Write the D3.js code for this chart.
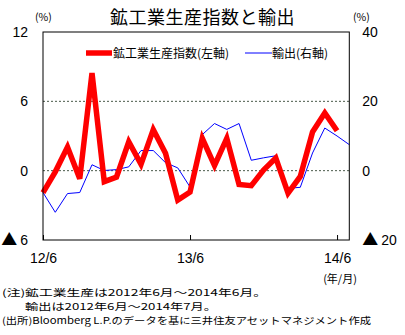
<!DOCTYPE html>
<html><head><meta charset="utf-8">
<script src="https://cdn.jsdelivr.net/npm/d3@7"></script>
<style>
body{margin:0;background:#fff;}
svg{display:block;}
text{font-family:"Noto Sans CJK JP","Noto Sans",sans-serif;fill:#000;}
</style></head>
<body><svg id="c" width="405" height="335"></svg>
<script>
const monthLabels = ["12/6","13/6","14/6"];
const monthTickIdx = [0,12,24];
const ipValues = [-1.9,-0.1,2.05,-0.7,8.45,-0.95,-0.55,2.5,0.55,3.55,1.5,-2.55,-1.85,2.8,0.45,2.8,-1.2,-1.3,0.05,1.1,-1.95,-0.5,3.35,5.0,3.45];
const exportValues = [-6.3,-12.0,-6.6,-6.3,1.7,0.05,0.3,1.1,5.8,5.8,2.3,0.8,-4.7,10.4,13.6,11.9,13.6,3.0,3.7,4.3,-5.1,-4.8,5.1,12.3,10.0,7.5];
const leftTicks = [-6,0,6,12];
const rightTicks = [-20,0,20,40];
const gridTicks = [0,6];

const svg = d3.select("#c");
const L=43, R=349.3, T=32, B=240;
const x = d3.scaleLinear().domain([0,25]).range([L,R]);
const yL = d3.scaleLinear().domain([-6,12]).range([B,T]);
const yR = d3.scaleLinear().domain([-20,40]).range([B,T]);

const numFont = "'Liberation Sans','Noto Sans CJK JP',sans-serif";

function styleTicks(sel){
  sel.selectAll("text").style("font-size","14px").style("font-family",numFont)
    .each(function(d){
      const t = d3.select(this);
      if (d < 0) {
        t.text(null);
        t.append("tspan").style("font-size","16px").style("font-family","'Noto Sans CJK JP',sans-serif").text("▲");
        t.append("tspan").attr("dx",3).text(Math.abs(d));
      }
    });
}

// title
svg.append("text").attr("x",110).attr("y",24)
  .style("font-size","18px").style("letter-spacing","0.5px").text("鉱工業生産指数と輸出");
svg.append("text").attr("x",35).attr("y",21).style("font-size","10.5px").text("(%)");
svg.append("text").attr("x",353).attr("y",21).style("font-size","10.5px").text("(%)");

// gridlines
svg.append("g").selectAll("line").data(gridTicks).join("line")
  .attr("x1",L).attr("x2",R).attr("y1",d=>yL(d)).attr("y2",d=>yL(d))
  .attr("stroke","#4a5a4a").attr("stroke-width",1).attr("stroke-dasharray","2,2");

// left axis
const ga = svg.append("g").attr("transform",`translate(${L},0)`)
  .call(d3.axisLeft(yL).tickValues(leftTicks).tickSize(0).tickPadding(15));
ga.select(".domain").remove();
styleTicks(ga);

const gr = svg.append("g").attr("transform",`translate(${R},0)`)
  .call(d3.axisRight(yR).tickValues(rightTicks).tickSize(0).tickPadding(13));
gr.select(".domain").remove();
styleTicks(gr);

const gb = svg.append("g").attr("transform",`translate(0,${B})`)
  .call(d3.axisBottom(x).tickValues(monthTickIdx).tickSize(-5).tickPadding(13)
    .tickFormat((d,i)=>monthLabels[i]));
gb.select(".domain").remove();
gb.selectAll("line").attr("stroke","#000");
gb.selectAll("text").style("font-size","14px").style("font-family",numFont);
svg.append("text").attr("x",340).attr("y",283).attr("text-anchor","middle").style("font-size","11px").text("(年/月)");

// lines
svg.append("path").datum(exportValues)
  .attr("d", d3.line().x((d,i)=>x(i)).y(d=>yR(d)))
  .attr("fill","none").attr("stroke","#0000ff").attr("stroke-width",1);
svg.append("path").datum(ipValues)
  .attr("d", d3.line().x((d,i)=>x(i)).y(d=>yL(d)))
  .attr("fill","none").attr("stroke","#ff0000").attr("stroke-width",5.5).attr("stroke-linejoin","miter");

// frame
svg.append("rect").attr("x",L).attr("y",T).attr("width",R-L).attr("height",B-T)
  .attr("fill","none").attr("stroke","#000").attr("stroke-width",1);

// legend
const lg = svg.append("g");
lg.append("line").attr("x1",86).attr("x2",112).attr("y1",53).attr("y2",53).attr("stroke","#ff0000").attr("stroke-width",5.5);
lg.append("text").attr("x",113).attr("y",57.5).style("font-size","12px").text("鉱工業生産指数(左軸)");
lg.append("line").attr("x1",245).attr("x2",272).attr("y1",53).attr("y2",53).attr("stroke","#0000ff").attr("stroke-width",1);
lg.append("text").attr("x",272).attr("y",57.5).style("font-size","12px").text("輸出(右軸)");

// notes
const notes = [["(注)鉱工業生産は2012年6月～2014年6月。",2,296,265],["輸出は2012年6月～2014年7月。",25,310,192],["(出所)Bloomberg L.P.のデータを基に三井住友アセットマネジメント作成",2,324,369]];
svg.append("g").selectAll("text").data(notes).join("text")
  .attr("x",d=>d[1]).attr("y",d=>d[2]).style("font-size","9.5px")
  .attr("textLength",d=>d[3]).attr("lengthAdjust","spacingAndGlyphs").text(d=>d[0]);
</script></body></html>
